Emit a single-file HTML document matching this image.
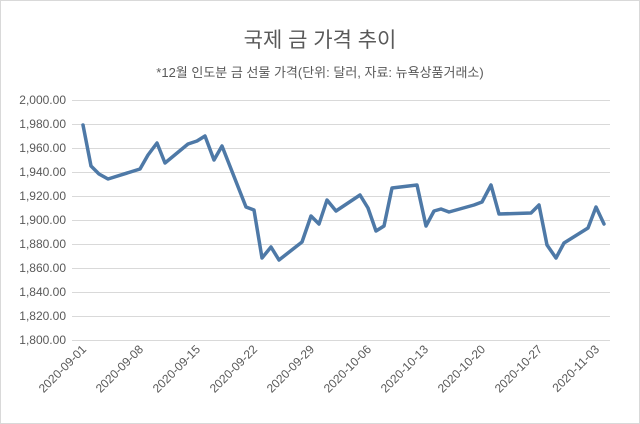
<!DOCTYPE html>
<html><head><meta charset="utf-8"><style>
body{margin:0;background:#fff;}
</style></head><body>
<svg width="640" height="424" xmlns="http://www.w3.org/2000/svg" style="display:block">
<rect x="0.5" y="0.5" width="639" height="423" fill="#fff" stroke="#d9d9d9"/>
<text x="320" y="47" text-anchor="middle" font-family="'Liberation Sans','Noto Sans CJK KR',sans-serif" font-size="21" fill="#595959">국제 금 가격 추이</text>
<text x="320" y="77" text-anchor="middle" font-family="'Liberation Sans','Noto Sans CJK KR',sans-serif" font-size="13" fill="#595959">*12월 인도분 금 선물 가격(단위: 달러, 자료: 뉴욕상품거래소)</text>
<g stroke="#d9d9d9" stroke-width="1">
<line x1="72" x2="610" y1="100.5" y2="100.5"/><line x1="72" x2="610" y1="124.5" y2="124.5"/>
<line x1="72" x2="610" y1="148.5" y2="148.5"/><line x1="72" x2="610" y1="172.5" y2="172.5"/>
<line x1="72" x2="610" y1="196.5" y2="196.5"/><line x1="72" x2="610" y1="220.5" y2="220.5"/>
<line x1="72" x2="610" y1="244.5" y2="244.5"/><line x1="72" x2="610" y1="268.5" y2="268.5"/>
<line x1="72" x2="610" y1="292.5" y2="292.5"/><line x1="72" x2="610" y1="316.5" y2="316.5"/>
<line x1="72" x2="610" y1="340.5" y2="340.5"/>
</g>
<g font-family="'Liberation Sans',sans-serif" font-size="12" fill="#595959" text-anchor="end">
<text x="66" y="104">2,000.00</text><text x="66" y="128">1,980.00</text><text x="66" y="152">1,960.00</text>
<text x="66" y="176">1,940.00</text><text x="66" y="200">1,920.00</text><text x="66" y="224">1,900.00</text>
<text x="66" y="248">1,880.00</text><text x="66" y="272">1,860.00</text><text x="66" y="296">1,840.00</text>
<text x="66" y="320">1,820.00</text><text x="66" y="344">1,800.00</text>
</g>
<g font-family="'Liberation Sans',sans-serif" font-size="12" fill="#595959" text-anchor="end">
<text transform="translate(87,350) rotate(-45)">2020-09-01</text>
<text transform="translate(144,350) rotate(-45)">2020-09-08</text>
<text transform="translate(201,350) rotate(-45)">2020-09-15</text>
<text transform="translate(258,350) rotate(-45)">2020-09-22</text>
<text transform="translate(315,350) rotate(-45)">2020-09-29</text>
<text transform="translate(372,350) rotate(-45)">2020-10-06</text>
<text transform="translate(429,350) rotate(-45)">2020-10-13</text>
<text transform="translate(486,350) rotate(-45)">2020-10-20</text>
<text transform="translate(543,350) rotate(-45)">2020-10-27</text>
<text transform="translate(600,350) rotate(-45)">2020-11-03</text>
</g>
<polyline fill="none" stroke="#4e79a7" stroke-width="3.5" stroke-linejoin="round" stroke-linecap="round" points="83,125 91,166 99,174 108,179 140,169 148,155 157,143 165,163 188,144 197,141 205,136 214,160 222,146 246,207 254,210 262,258 271,247 279,260 302,242 311,216 319,224 327,200 336,211 360,195 368,208 376,231 384,226 392,188 417,185 426,226 434,211 441,209 449,212 474,205 482,202 491,185 499,214 531,213 539,205 547,245 556,258 564,243 588,228 596,207 604,224"/>
</svg>
</body></html>
